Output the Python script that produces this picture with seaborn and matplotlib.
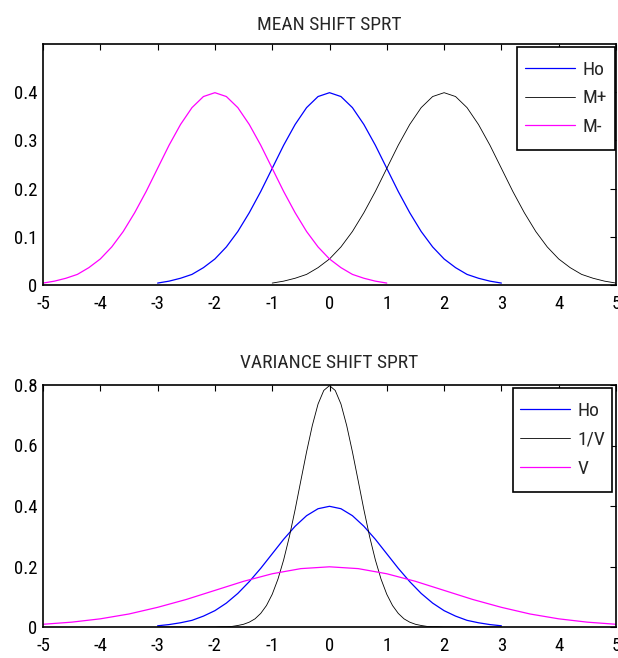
#!/usr/bin/env python3
import matplotlib
matplotlib.use('Agg')
import matplotlib.pyplot as plt
import numpy as np
import pandas as pd
import seaborn as sns
from matplotlib import font_manager
from matplotlib.patches import Rectangle

#
#   Curve values
#
# mean shift panel, sampled every 0.2
x_ho = np.linspace(-3, 3, 31)
ho = [0.004, 0.008, 0.014, 0.022, 0.036, 0.054, 0.079, 0.111, 0.150, 0.194, 0.242,
      0.290, 0.333, 0.368, 0.391, 0.399, 0.391, 0.368, 0.333, 0.290, 0.242, 0.194,
      0.150, 0.111, 0.079, 0.054, 0.036, 0.022, 0.014, 0.008, 0.004]
x_mplus = np.linspace(-1, 5, 31)
mplus = [0.004, 0.008, 0.014, 0.022, 0.036, 0.054, 0.079, 0.111, 0.150, 0.194, 0.242,
         0.290, 0.333, 0.368, 0.391, 0.399, 0.391, 0.368, 0.333, 0.290, 0.242, 0.194,
         0.150, 0.111, 0.079, 0.054, 0.036, 0.022, 0.014, 0.008, 0.004]
x_mminus = np.linspace(-5, 1, 31)
mminus = [0.004, 0.008, 0.014, 0.022, 0.036, 0.054, 0.079, 0.111, 0.150, 0.194, 0.242,
          0.290, 0.333, 0.368, 0.391, 0.399, 0.391, 0.368, 0.333, 0.290, 0.242, 0.194,
          0.150, 0.111, 0.079, 0.054, 0.036, 0.022, 0.014, 0.008, 0.004]

# variance shift panel
x_invv = np.linspace(-3, 3, 61)
invv = [0, 0, 0, 0, 0, 0, 0, 0, 0, 0,
        0.000, 0.001, 0.001, 0.002, 0.005, 0.009, 0.016, 0.027, 0.045, 0.071,
        0.108, 0.158, 0.222, 0.299, 0.388, 0.484, 0.579, 0.666, 0.737, 0.782,
        0.798,
        0.782, 0.737, 0.666, 0.579, 0.484, 0.388, 0.299, 0.222, 0.158, 0.108,
        0.071, 0.045, 0.027, 0.016, 0.009, 0.005, 0.002, 0.001, 0.001, 0.000,
        0, 0, 0, 0, 0, 0, 0, 0, 0, 0]
x_v = np.linspace(-5, 5, 21)
v = [0.009, 0.016, 0.027, 0.043, 0.065, 0.091, 0.121, 0.151, 0.176, 0.193, 0.199,
     0.193, 0.176, 0.151, 0.121, 0.091, 0.065, 0.043, 0.027, 0.016, 0.009]

xticks = [-5, -4, -3, -2, -1, 0, 1, 2, 3, 4, 5]
top_yticks = [0, 0.1, 0.2, 0.3, 0.4]
bot_yticks = [0, 0.2, 0.4, 0.6, 0.8]

sns.set_style('white')
# narrow font if there is one (the original looks like Arial Narrow)
installed = {f.name for f in font_manager.fontManager.ttflist}
narrow = [n for n in ['Liberation Sans Narrow', 'Arimo Narrow', 'Roboto Condensed',
                      'Archivo Narrow', 'Fira Sans Condensed'] if n in installed]
plt.rcParams['font.family'] = narrow[:1] + ['Liberation Sans', 'DejaVu Sans']

fig = plt.figure(figsize=(6.18, 6.58), dpi=100)
W, H = 618., 658.
ax1 = fig.add_axes([43 / W, 1 - 285 / H, 573 / W, 241 / H])
ax2 = fig.add_axes([43 / W, 1 - 627 / H, 573 / W, 242 / H])


def style_axes(ax, title, pad, ylim, yticks, ylabels, box):
  ax.set_xlim(-5, 5)
  ax.set_ylim(*ylim)
  ax.set_xticks(xticks)
  ax.set_xticklabels([str(t) for t in xticks])
  ax.set_yticks(yticks)
  ax.set_yticklabels(ylabels)
  ax.set_xlabel('')
  ax.set_ylabel('')
  ax.tick_params(direction='in', top=True, right=True, length=4, width=0.8,
                 labelsize=13.5, colors='black')
  ax.tick_params(axis='x', pad=7)
  ax.tick_params(axis='y', pad=4)
  for s in ax.spines.values():
    s.set_visible(True)
    s.set_color('black')
    s.set_linewidth(1.2)
  ax.set_title(title, fontsize=14, pad=pad)
  # legend box drawn by hand so that its padding can match the original
  x0, y0, x1, y1 = box
  ax.add_patch(Rectangle((x0, y0), x1 - x0, y1 - y0, transform=ax.transAxes,
                         facecolor='white', edgecolor='black', lw=1.2, zorder=4))
  ax.legend(loc='center', bbox_to_anchor=((x0 + x1) / 2, (y0 + y1) / 2),
            frameon=False, fontsize=14, handlelength=2.6, handletextpad=0.35,
            labelspacing=0.55, borderpad=0)


#
#   Mean shift
#
sns.lineplot(x=x_ho, y=ho, ax=ax1, color='#0000ff', lw=0.9, label='Ho')
sns.lineplot(x=x_mplus, y=mplus, ax=ax1, color='black', lw=0.6, label='M+')
sns.lineplot(x=x_mminus, y=mminus, ax=ax1, color='#ff00ff', lw=0.9, label='M-')
style_axes(ax1, 'MEAN SHIFT SPRT', 10, (0, 0.5), top_yticks,
           ['0', '0.1', '0.2', '0.3', '0.4'], (0.827, 0.560, 0.998, 0.988))

#
#   Variance shift
#
sns.lineplot(x=x_ho, y=ho, ax=ax2, color='#0000ff', lw=0.9, label='Ho')
sns.lineplot(x=x_invv, y=invv, ax=ax2, color='black', lw=0.6, label='1/V')
sns.lineplot(x=x_v, y=v, ax=ax2, color='#ff00ff', lw=0.9, label='V')
style_axes(ax2, 'VARIANCE SHIFT SPRT', 12, (0, 0.8), bot_yticks,
           ['0', '0.2', '0.4', '0.6', '0.8'], (0.820, 0.558, 0.993, 0.988))

plt.savefig('out.png', dpi=100)
